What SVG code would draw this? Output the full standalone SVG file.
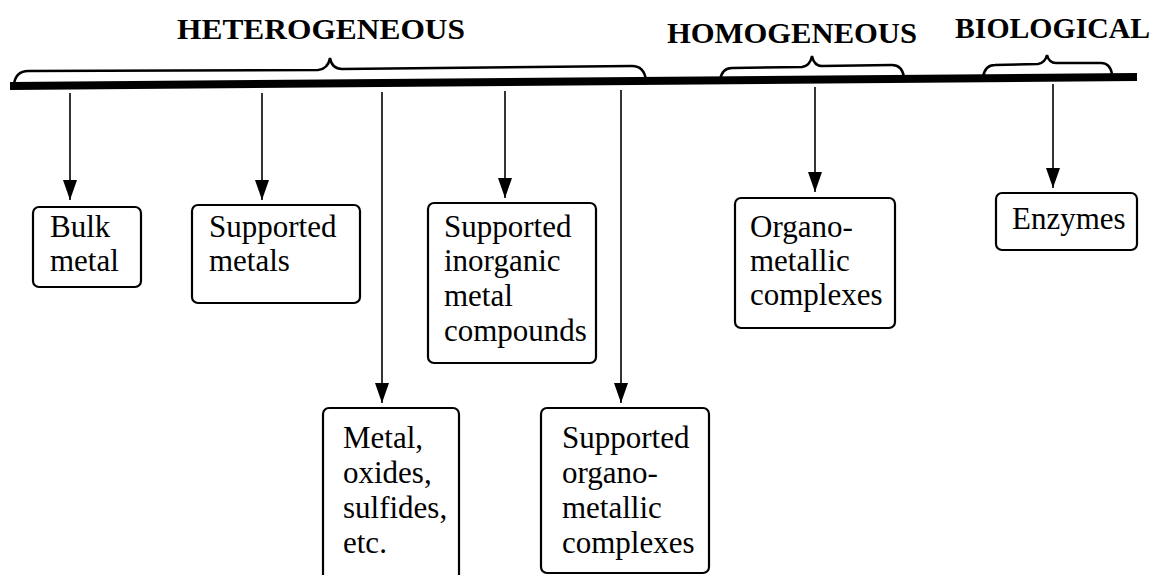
<svg xmlns="http://www.w3.org/2000/svg" width="1164" height="575" viewBox="0 0 1164 575">
<defs>
<style>
.hdr{font-family:"Liberation Serif","Times New Roman",serif;font-weight:bold;font-size:30px;fill:#000}
.lbl{font-family:"Liberation Serif","Times New Roman",serif;font-size:31px;fill:#000}
.box{fill:#fff;stroke:#000;stroke-width:2.2}
.brace{fill:none;stroke:#000;stroke-width:2.5}
.conn{stroke:#000;stroke-width:1.6;fill:none;marker-end:url(#arr)}
</style>
<marker id="arr" viewBox="0 0 20 14" refX="20" refY="7" markerWidth="20" markerHeight="14" markerUnits="userSpaceOnUse" orient="auto">
<path d="M0,0 L20,7 L0,14 z" fill="#000"/>
</marker>
</defs>
<rect width="1164" height="575" fill="#fff"/>
<g id="axis">
<line x1="10" y1="86" x2="1137" y2="77" stroke="#000" stroke-width="8"/>
<path class="brace" d="M14,84 Q16,71 28,71 L318,70 Q328,69 330,58 Q332,69 342,69 L632,66 Q644,66 646,80"/>
<path class="brace" d="M720,80 Q722,68 732,68 L802,67 Q810,66 812,56 Q814,66 822,66 L892,65 Q902,65 904,77"/>
<path class="brace" d="M983,77 Q985,65 995,65 L1038,64 Q1045,63 1047,55 Q1049,63 1056,63 L1101,63 Q1110,63 1112,74"/>
<text class="hdr" x="177" y="39" textLength="288" lengthAdjust="spacingAndGlyphs">HETEROGENEOUS</text>
<text class="hdr" x="667" y="43" textLength="250" lengthAdjust="spacingAndGlyphs">HOMOGENEOUS</text>
<text class="hdr" x="955" y="38" textLength="195" lengthAdjust="spacingAndGlyphs">BIOLOGICAL</text>
</g>
<g id="connectors">
<line class="conn" x1="70" y1="93" x2="70" y2="200"/>
<line class="conn" x1="262" y1="93" x2="262" y2="200"/>
<line class="conn" x1="382" y1="92" x2="382" y2="403"/>
<line class="conn" x1="505" y1="91" x2="505" y2="198"/>
<line class="conn" x1="621" y1="90" x2="621" y2="403"/>
<line class="conn" x1="815" y1="87" x2="815" y2="192"/>
<line class="conn" x1="1053" y1="84" x2="1053" y2="188"/>
</g>
<g id="bulk-metal">
<rect class="box" x="33" y="207" width="108" height="80" rx="6"/>
<text class="lbl" x="50" y="237">Bulk</text>
<text class="lbl" x="50" y="271">metal</text>
</g>
<g id="supported-metals">
<rect class="box" x="192" y="205" width="168" height="98" rx="6"/>
<text class="lbl" x="209" y="237">Supported</text>
<text class="lbl" x="209" y="271">metals</text>
</g>
<g id="supported-inorganic">
<rect class="box" x="428" y="203" width="168" height="160" rx="6"/>
<text class="lbl" x="444" y="237">Supported</text>
<text class="lbl" x="444" y="271">inorganic</text>
<text class="lbl" x="444" y="306">metal</text>
<text class="lbl" x="444" y="341">compounds</text>
</g>
<g id="metal-oxides">
<rect class="box" x="323" y="408" width="136" height="200" rx="6"/>
<text class="lbl" x="343" y="448">Metal,</text>
<text class="lbl" x="343" y="483">oxides,</text>
<text class="lbl" x="343" y="518">sulfides,</text>
<text class="lbl" x="343" y="553">etc.</text>
</g>
<g id="supported-organometallic">
<rect class="box" x="541" y="408" width="168" height="165" rx="6"/>
<text class="lbl" x="562" y="448">Supported</text>
<text class="lbl" x="562" y="483">organo-</text>
<text class="lbl" x="562" y="518">metallic</text>
<text class="lbl" x="562" y="553">complexes</text>
</g>
<g id="organometallic-complexes">
<rect class="box" x="735" y="198" width="160" height="130" rx="6"/>
<text class="lbl" x="750" y="237">Organo-</text>
<text class="lbl" x="750" y="271">metallic</text>
<text class="lbl" x="750" y="305">complexes</text>
</g>
<g id="enzymes">
<rect class="box" x="996" y="193" width="141" height="57" rx="6"/>
<text class="lbl" x="1012" y="229">Enzymes</text>
</g>
</svg>
